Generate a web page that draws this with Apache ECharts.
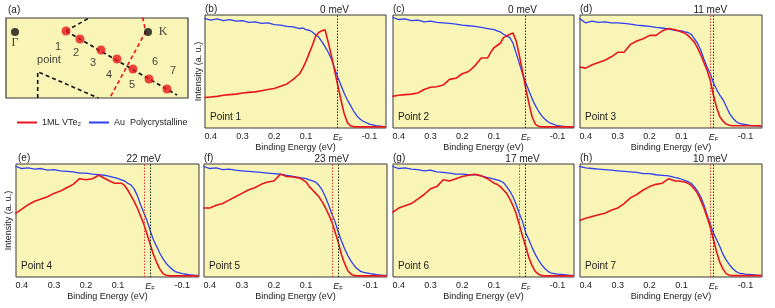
<!DOCTYPE html>
<html><head><meta charset="utf-8">
<script src="https://cdn.jsdelivr.net/npm/echarts@6/dist/echarts.min.js"></script>
<style>html,body{margin:0;padding:0;background:#fff}#c{width:775px;height:308px}</style>
</head><body><div id="c"></div>
<script>
// ---------- DATA ----------
const energy = [0.42,0.40,0.38,0.36,0.34,0.32,0.30,0.28,0.26,0.24,0.22,0.20,0.18,0.16,0.14,0.12,
  0.11,0.10,0.09,0.08,0.07,0.06,0.05,0.04,0.03,0.02,0.01,0.00,-0.01,-0.02,-0.03,-0.04,-0.05,-0.06,-0.07,-0.08,
  -0.10,-0.12,-0.14,-0.15];
const xTicks = [0.4,0.3,0.2,0.1,0,-0.1];
const panelLetters = ['(b)','(c)','(d)','(e)','(f)','(g)','(h)'];
const pointNames = ['Point 1','Point 2','Point 3','Point 4','Point 5','Point 6','Point 7'];
const shiftsMeV = [0,0,11,22,23,17,10];

const blue1 = [0.97,0.955,0.965,0.95,0.96,0.945,0.95,0.935,0.94,0.925,0.93,0.915,0.91,0.90,0.895,0.88,0.885,0.87,0.865,0.85,0.825,0.805,0.765,0.72,0.67,0.61,0.53,0.45,0.38,0.31,0.25,0.20,0.15,0.11,0.08,0.06,0.035,0.02,0.015,0.012];
const red1  = [0.27,0.275,0.28,0.29,0.295,0.30,0.31,0.315,0.32,0.33,0.34,0.35,0.37,0.39,0.43,0.48,0.53,0.59,0.66,0.73,0.81,0.845,0.86,0.87,0.76,0.64,0.51,0.38,0.25,0.13,0.05,0.02,0.012,0.01,0.01,0.01,0.01,0.01,0.01,0.01];
const blue2 = [0.98,0.96,0.965,0.95,0.955,0.94,0.945,0.935,0.93,0.925,0.92,0.91,0.905,0.90,0.89,0.88,0.875,0.87,0.86,0.85,0.83,0.815,0.80,0.75,0.66,0.57,0.48,0.40,0.33,0.26,0.20,0.15,0.11,0.08,0.055,0.04,0.02,0.015,0.01,0.01];
const red2  = [0.28,0.29,0.295,0.30,0.31,0.34,0.36,0.365,0.38,0.43,0.44,0.48,0.50,0.55,0.62,0.62,0.67,0.71,0.73,0.75,0.80,0.815,0.83,0.84,0.77,0.64,0.50,0.35,0.22,0.10,0.035,0.015,0.01,0.01,0.01,0.01,0.01,0.01,0.01,0.01];
const blue3 = [0.97,0.93,0.945,0.935,0.94,0.93,0.93,0.925,0.92,0.91,0.905,0.90,0.89,0.885,0.875,0.865,0.86,0.86,0.85,0.845,0.83,0.79,0.75,0.69,0.61,0.54,0.48,0.40,0.34,0.29,0.25,0.19,0.13,0.09,0.06,0.04,0.03,0.02,0.018,0.015];
const red3  = [0.54,0.53,0.56,0.58,0.60,0.63,0.67,0.67,0.74,0.77,0.79,0.82,0.82,0.86,0.88,0.87,0.86,0.85,0.84,0.82,0.79,0.76,0.71,0.65,0.58,0.51,0.42,0.29,0.18,0.10,0.06,0.035,0.025,0.02,0.02,0.02,0.02,0.02,0.02,0.02];
const blue4 = [0.98,0.96,0.965,0.955,0.96,0.945,0.95,0.94,0.935,0.93,0.92,0.92,0.91,0.905,0.90,0.885,0.88,0.87,0.86,0.85,0.83,0.815,0.78,0.72,0.64,0.57,0.50,0.41,0.33,0.27,0.21,0.16,0.12,0.09,0.065,0.045,0.03,0.02,0.015,0.015];
const red4  = [0.56,0.60,0.64,0.67,0.69,0.71,0.74,0.76,0.79,0.82,0.87,0.86,0.87,0.90,0.87,0.84,0.83,0.83,0.83,0.81,0.77,0.72,0.67,0.61,0.54,0.47,0.38,0.29,0.20,0.13,0.07,0.03,0.015,0.01,0.01,0.01,0.01,0.01,0.01,0.01];
const blue5 = [0.98,0.96,0.965,0.95,0.955,0.945,0.94,0.935,0.93,0.925,0.92,0.915,0.91,0.90,0.89,0.88,0.875,0.87,0.86,0.85,0.84,0.81,0.77,0.71,0.64,0.56,0.49,0.40,0.32,0.25,0.19,0.14,0.10,0.07,0.05,0.04,0.03,0.02,0.015,0.015];
const red5  = [0.61,0.61,0.635,0.65,0.68,0.71,0.74,0.77,0.79,0.82,0.84,0.85,0.91,0.89,0.885,0.875,0.86,0.84,0.80,0.77,0.74,0.71,0.665,0.615,0.555,0.49,0.40,0.31,0.20,0.12,0.055,0.025,0.012,0.01,0.01,0.01,0.01,0.01,0.01,0.01];
const blue6 = [0.98,0.96,0.965,0.955,0.95,0.94,0.945,0.93,0.925,0.92,0.91,0.91,0.905,0.905,0.895,0.88,0.875,0.865,0.86,0.85,0.835,0.80,0.76,0.71,0.64,0.56,0.49,0.39,0.33,0.26,0.20,0.15,0.11,0.075,0.05,0.035,0.025,0.02,0.015,0.015];
const red6  = [0.57,0.61,0.63,0.65,0.69,0.73,0.78,0.80,0.86,0.85,0.87,0.89,0.90,0.91,0.895,0.87,0.85,0.83,0.82,0.80,0.77,0.74,0.69,0.63,0.56,0.46,0.36,0.27,0.17,0.10,0.05,0.025,0.012,0.01,0.01,0.01,0.01,0.01,0.01,0.01];
const blue7 = [0.98,0.965,0.96,0.955,0.95,0.945,0.94,0.935,0.93,0.925,0.915,0.915,0.905,0.90,0.895,0.88,0.875,0.865,0.855,0.845,0.83,0.80,0.76,0.71,0.64,0.55,0.47,0.39,0.33,0.27,0.20,0.15,0.11,0.075,0.05,0.035,0.025,0.02,0.015,0.015];
const red7  = [0.50,0.52,0.535,0.55,0.565,0.59,0.61,0.65,0.70,0.73,0.77,0.80,0.82,0.83,0.87,0.85,0.85,0.845,0.84,0.83,0.81,0.78,0.74,0.68,0.61,0.53,0.44,0.33,0.22,0.13,0.07,0.03,0.015,0.012,0.012,0.012,0.012,0.012,0.012,0.012];

const redSeries = [red1,red2,red3,red4,red5,red6,red7];
const blueSeries = [blue1,blue2,blue3,blue4,blue5,blue6,blue7];

// Panel (a) schematic, in its own coordinate frame (0..182 x 0..80)
const gammaKDots = [[9,66],[142,66]];
const measureDots = [[60,67],[74,59],[95,48],[111,39],[127,29],[143,19],[161,9]];
const dashUpper = [[60,67],[83,80]];
const dashPath = [[60,67],[171,3]];
const dashLower = [[31.7,0],[31.7,26.3],[92.3,0]];
const zoneBoundary = [[136.7,80.7],[139.7,66.3],[104,0.3]];
const pointNumberLabels = [['1',[52,51]],['2',[70,45]],['3',[87,35]],['4',[103,23]],['5',[126,13]],['6',[149,36]],['7',[167,27]],['point',[43,38]]];
const symLabels = [['Γ',[9,55]],['K',[157,66]]];

const redName = '1ML VTe₂';
const blueName = 'Au  Polycrystalline';

// ---------- LAYOUT ----------
const FONT = '"Liberation Sans", Arial, Helvetica, sans-serif';
const YELLOW = '#f9f5b6';
const RED = '#e8161c';
const BLUE = '#2d3ff2';
const gridBoxes = [
  {left:205, top:15, width:181, height:113},
  {left:393, top:15, width:181, height:113},
  {left:580, top:15, width:182, height:113},
  {left:16,  top:164, width:183, height:113},
  {left:204, top:164, width:183, height:113},
  {left:393, top:164, width:181, height:113},
  {left:580, top:164, width:182, height:113}
];

const grids = [], xAxes = [], yAxes = [], series = [], graphics = [];
gridBoxes.forEach((b, i) => {
  grids.push(Object.assign({show:true, backgroundColor:YELLOW, borderColor:'#3a3a3a', borderWidth:1}, b));
  xAxes.push({
    gridIndex:i, type:'value', inverse:true, min:-0.152, max:0.418,
    axisLine:{show:false}, axisTick:{show:false}, splitLine:{show:false},
    axisLabel:{customValues:xTicks, margin:4, fontSize:9, color:'#1a1a1a', fontFamily:FONT,
      formatter: v => Math.abs(v) < 1e-9 ? '{e|E}{f|F}' : v.toFixed(1),
      rich:{e:{fontStyle:'italic', fontSize:9, fontFamily:FONT, color:'#1a1a1a'},
            f:{fontSize:6, fontFamily:FONT, color:'#1a1a1a', verticalAlign:'bottom', padding:[4,0,0,0]}}},
    name:'Binding Energy (eV)', nameLocation:'middle', nameGap:14,
    nameTextStyle:{fontSize:9, color:'#1a1a1a', fontFamily:FONT}
  });
  const showY = (i === 0 || i === 3);
  yAxes.push({
    gridIndex:i, type:'value', min:0, max:1,
    axisLine:{show:false}, axisTick:{show:false}, splitLine:{show:false}, axisLabel:{show:false},
    name: showY ? 'Intensity (a. u.)' : '', nameLocation:'middle', nameRotate:90, nameGap: i === 0 ? 2 : 3,
    nameTextStyle:{fontSize:9, color:'#1a1a1a', fontFamily:FONT}
  });
  const toPts = arr => energy.map((e, k) => [e, arr[k]]);
  const shift = shiftsMeV[i];
  const mlData = [
    {xAxis:0, lineStyle:{color:'#1f2f1f', type:[1.5,1.5], width:1}}
  ];
  if (shift > 0) mlData.push({xAxis:shift/1000, lineStyle:{color:'#e03a3a', type:[1.5,1.5], width:1}});
  mlData.push({xAxis:shift/2000 + 0.005, lineStyle:{color:'rgba(0,0,0,0)', width:0.1},
    label:{show:true, position:'end', distance:0, formatter: shift + ' meV', fontSize:10, color:'#1a1a1a', fontFamily:FONT}});
  series.push({
    type:'line', name:blueName, xAxisIndex:i, yAxisIndex:i, data:toPts(blueSeries[i]),
    symbol:'none', lineStyle:{color:BLUE, width:1.3}, itemStyle:{color:BLUE}, animation:false, z:2
  });
  series.push({
    type:'line', name:redName, xAxisIndex:i, yAxisIndex:i, data:toPts(redSeries[i]),
    symbol:'none', lineStyle:{color:RED, width:1.6}, itemStyle:{color:RED}, animation:false, z:3,
    markLine:{silent:true, symbol:'none', animation:false, label:{show:false}, data:mlData}
  });
  graphics.push({type:'text', left:b.left + 5, top:b.top + 97, style:{text:pointNames[i], fontSize:10, fontFamily:FONT, fill:'#1a1a1a'}});
  graphics.push({type:'text', left:(i === 3 ? 18 : b.left), top:b.top - 11, style:{text:panelLetters[i], fontSize:10, fontFamily:FONT, fill:'#1a1a1a'}});
});

// panel (a)
const ai = gridBoxes.length;
grids.push({left:6, top:18, width:182, height:80, show:true, backgroundColor:YELLOW, borderColor:'#3a3a3a', borderWidth:1.2});
xAxes.push({gridIndex:ai, type:'value', min:0, max:182, show:false});
yAxes.push({gridIndex:ai, type:'value', min:0, max:80, show:false});
const dashStyle = {color:'#111', width:1.6, type:[4,3]};
[dashUpper, dashPath, dashLower].forEach(d => series.push({
  type:'line', xAxisIndex:ai, yAxisIndex:ai, data:d, symbol:'none', lineStyle:dashStyle, animation:false, silent:true
}));
series.push({type:'line', xAxisIndex:ai, yAxisIndex:ai, data:zoneBoundary, symbol:'none',
  lineStyle:{color:RED, width:1.6, type:[4,3]}, animation:false, silent:true});
series.push({type:'scatter', xAxisIndex:ai, yAxisIndex:ai, data:gammaKDots, symbolSize:8,
  itemStyle:{color:'#111'}, animation:false, silent:true, z:5});
series.push({type:'scatter', xAxisIndex:ai, yAxisIndex:ai, data:measureDots, symbolSize:9,
  itemStyle:{color:RED}, animation:false, silent:true, z:5});
series.push({type:'scatter', xAxisIndex:ai, yAxisIndex:ai, symbolSize:0, animation:false, silent:true,
  data:pointNumberLabels.map(p => ({name:p[0], value:p[1]})),
  label:{show:true, position:'inside', formatter:'{b}', fontSize:11, color:'#111', fontFamily:FONT}});
series.push({type:'scatter', xAxisIndex:ai, yAxisIndex:ai, symbolSize:0, animation:false, silent:true,
  data:symLabels.map(p => ({name:p[0], value:p[1]})),
  label:{show:true, position:'inside', formatter:'{b}', fontSize:12, color:'#111', fontFamily:'"Liberation Serif", "Times New Roman", serif'}});
graphics.push({type:'text', left:8, top:5, style:{text:'(a)', fontSize:10, fontFamily:FONT, fill:'#1a1a1a'}});

const chart = echarts.init(document.getElementById('c'), null, {renderer:'canvas'});
chart.setOption({
  animation:false,
  backgroundColor:'#ffffff',
  grid:grids, xAxis:xAxes, yAxis:yAxes, series:series, graphic:graphics,
  legend:{data:[redName, blueName], left:12, top:113, icon:'rect', itemWidth:20, itemHeight:2,
    itemGap:8, selectedMode:false, textStyle:{fontSize:9, color:'#1a1a1a', fontFamily:FONT}}
});
</script></body></html>
